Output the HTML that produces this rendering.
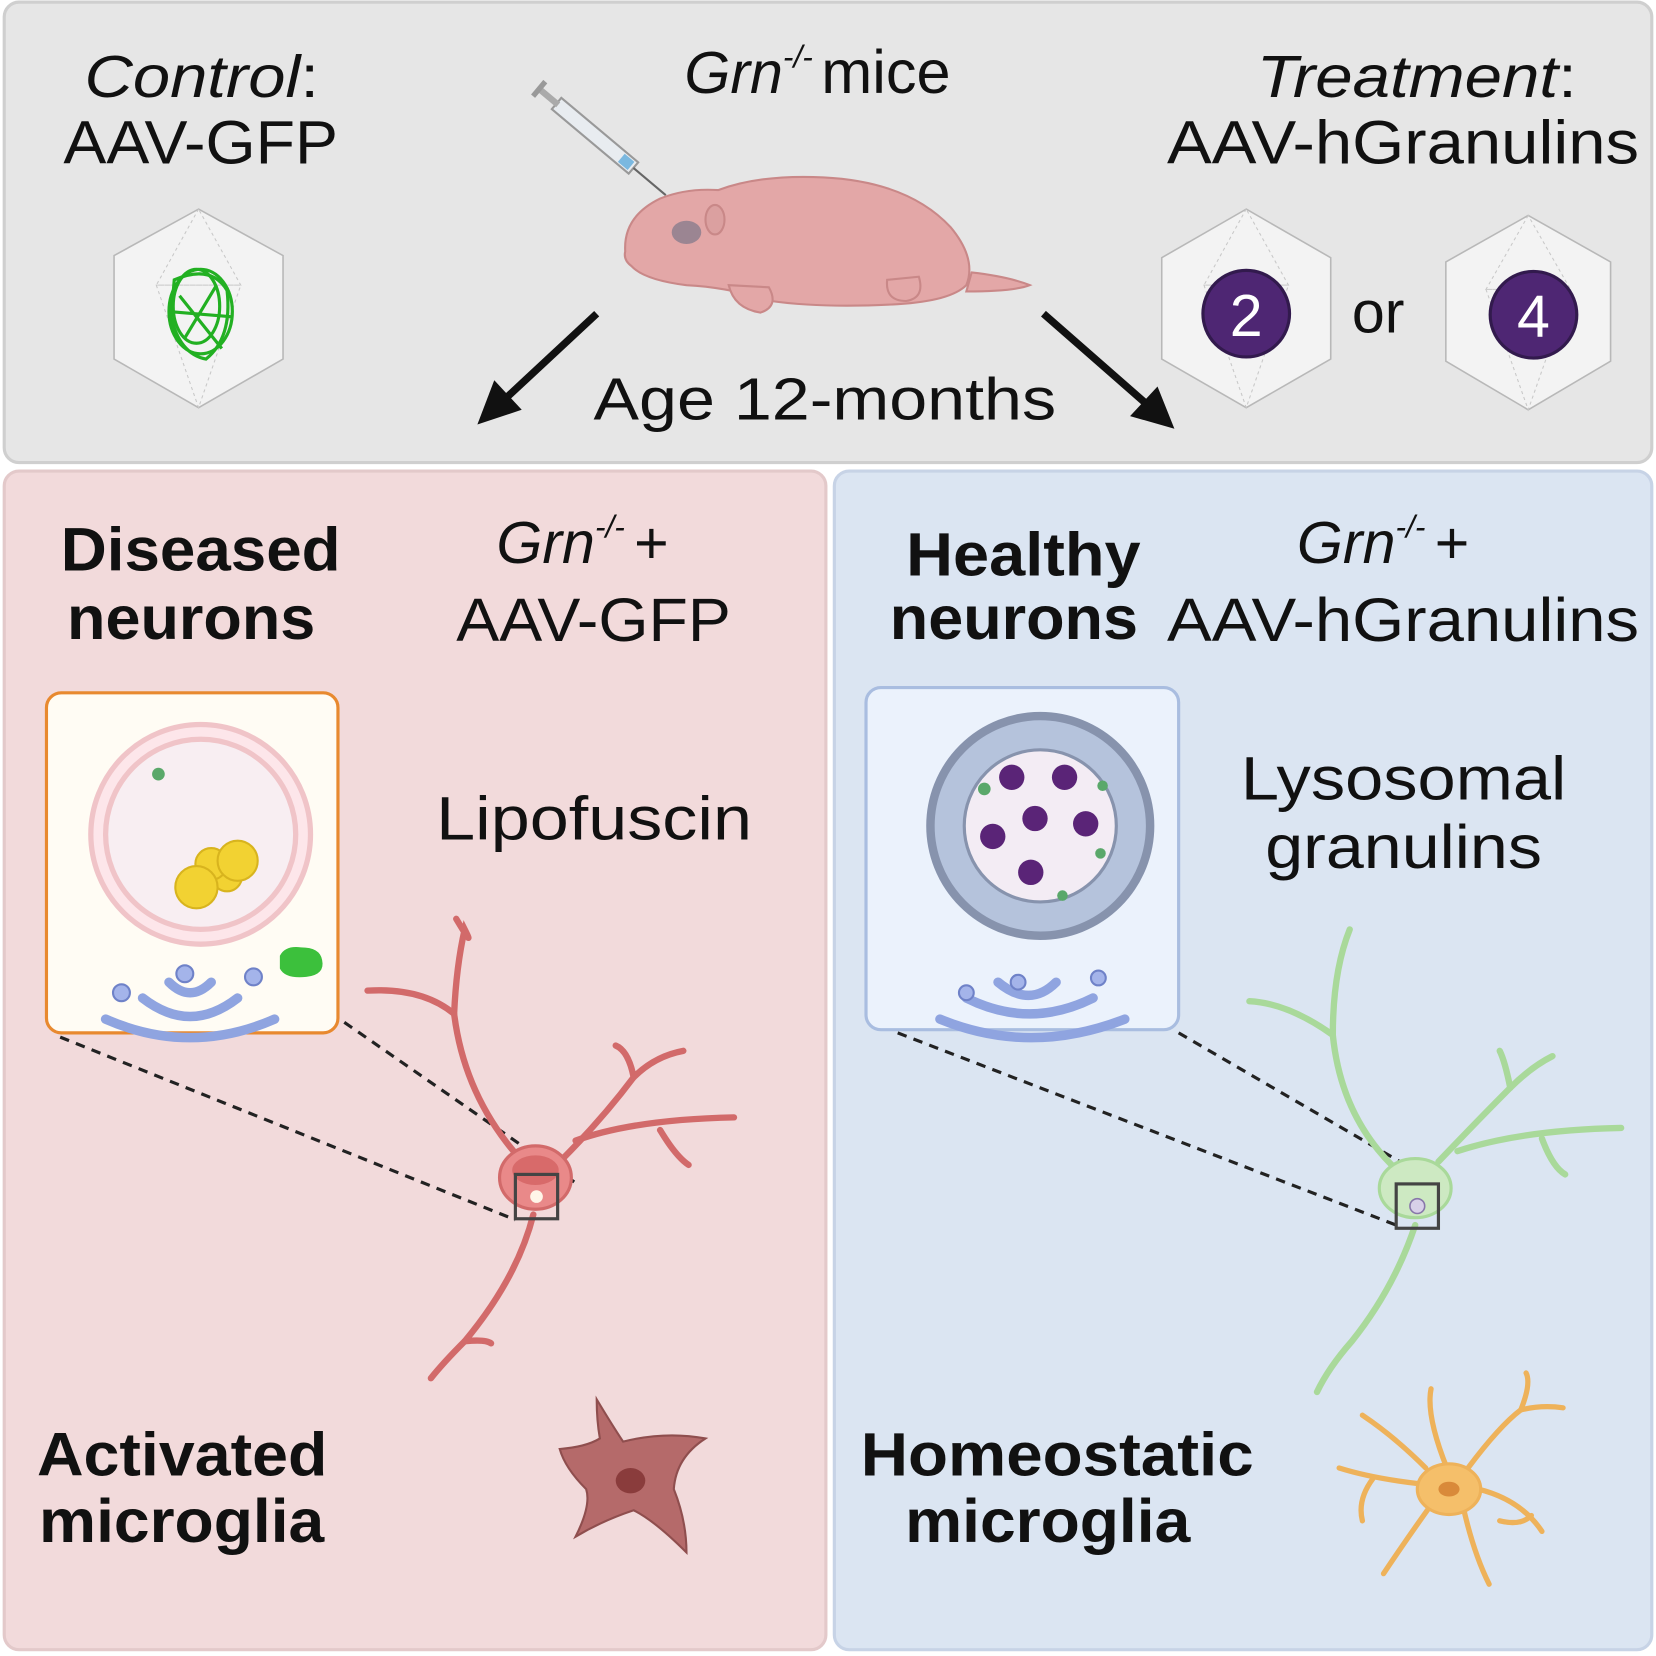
<!DOCTYPE html>
<html><head><meta charset="utf-8"><style>
html,body{margin:0;padding:0;background:#fff;}
svg{display:block;}
text{font-family:"Liberation Sans",sans-serif;fill:#111;}
</style></head><body>
<svg width="1656" height="1656" viewBox="0 0 1568 1568" xmlns="http://www.w3.org/2000/svg">
<rect x="0" y="0" width="1568" height="1568" fill="#fff"/>
<rect x="4" y="2" width="1560" height="436" rx="14" fill="#e6e6e6" stroke="#cfcfcf" stroke-width="3"/>
<rect x="4" y="446" width="778" height="1116" rx="14" fill="#f2dadb" stroke="#e3c9ca" stroke-width="3"/>
<rect x="790" y="446" width="774" height="1116" rx="14" fill="#dbe5f2" stroke="#c7d3e6" stroke-width="3"/>

<!-- top texts -->
<text x="80" y="92" font-size="56" font-style="italic" textLength="222" lengthAdjust="spacingAndGlyphs">Control<tspan font-style="normal">:</tspan></text>
<text x="190" y="155" font-size="58" text-anchor="middle" textLength="260" lengthAdjust="spacingAndGlyphs">AAV-GFP</text>
<text x="648" y="88" font-size="56" font-style="italic">Grn<tspan font-size="30" dy="-24">-/-</tspan><tspan dy="24" font-style="normal" dx="8" font-size="58">mice</tspan></text>
<text x="1190" y="92" font-size="56" font-style="italic" textLength="303" lengthAdjust="spacingAndGlyphs">Treatment<tspan font-style="normal">:</tspan></text>
<text x="1105" y="155" font-size="58" textLength="447" lengthAdjust="spacingAndGlyphs">AAV-hGranulins</text>
<text x="562" y="397" font-size="56" textLength="438" lengthAdjust="spacingAndGlyphs">Age 12-months</text>
<text x="1280" y="315" font-size="56">or</text>

<!-- arrows -->
<line x1="565" y1="297" x2="478" y2="378" stroke="#111" stroke-width="7"/>
<polygon points="452,402 468,360 494,388" fill="#111"/>
<line x1="988" y1="297" x2="1085" y2="382" stroke="#111" stroke-width="7"/>
<polygon points="1112,406 1070,394 1096,366" fill="#111"/>

<!-- syringe -->
<g transform="translate(527,98) rotate(40)">
<rect x="0" y="-7" width="95" height="14" fill="#e8ecf0" stroke="#999" stroke-width="2"/>
<rect x="-20" y="-3" width="22" height="6" fill="#aaa"/>
<rect x="-24" y="-9" width="5" height="18" fill="#999"/>
<line x1="95" y1="0" x2="135" y2="0" stroke="#666" stroke-width="2"/>
<rect x="80" y="-5" width="12" height="10" fill="#7ab8e0"/>
</g>

<!-- mouse -->
<g fill="#e3a7a7" stroke="#c98888" stroke-width="2">
<path d="M920,258 Q955,262 975,270 Q960,276 915,276 Z"/>
<path d="M592,238 Q590,205 625,188 Q650,178 680,180 Q720,165 780,168 Q860,172 900,215 Q925,245 915,270 Q900,285 850,288 Q780,292 730,285 Q690,272 650,270 Q610,265 598,252 Q590,246 592,238 Z"/>
<path d="M690,270 Q695,292 720,296 Q738,290 728,272 Z"/>
<path d="M840,265 Q838,285 858,285 Q876,282 870,262 Z"/>
</g>
<ellipse cx="650" cy="220" rx="14" ry="11" fill="#9b8592"/>
<ellipse cx="677" cy="208" rx="9" ry="14" fill="#dba0a0" stroke="#c98888" stroke-width="2"/>

<!-- viruses -->
<g fill="#f3f3f3" stroke="#b8b8b8" stroke-width="1.5">
<polygon points="188,198 268,242 268,340 188,386 108,340 108,242"/>
<polygon points="1180,198 1260,244 1260,340 1180,386 1100,340 1100,244"/>
<polygon points="1447,204 1525,248 1525,342 1447,388 1369,342 1369,248"/>
</g>
<g stroke="#c8c8c8" stroke-width="1" stroke-dasharray="3 3" fill="none">
<polygon points="188,198 148,270 228,270"/><polygon points="148,270 188,386 228,270"/>
<polygon points="1180,198 1140,270 1220,270"/><polygon points="1140,270 1180,386 1220,270"/>
<polygon points="1447,204 1407,274 1487,274"/><polygon points="1407,274 1447,388 1487,274"/>
</g>
<g fill="none" stroke="#22b022" stroke-width="3">
<ellipse cx="190" cy="295" rx="30" ry="40"/><ellipse cx="186" cy="290" rx="22" ry="35"/>
<path d="M165,265 Q200,250 215,275 Q220,320 195,340 Q170,335 162,300 Z"/>
<path d="M170,280 L210,330 M175,320 L205,270 M160,295 L220,300"/>
</g>
<circle cx="1180" cy="297" r="41" fill="#4e2673" stroke="#321a4d" stroke-width="3"/>
<text x="1180" y="318" font-size="56" text-anchor="middle" style="fill:#fff">2</text>
<circle cx="1452" cy="298" r="41" fill="#4e2673" stroke="#321a4d" stroke-width="3"/>
<text x="1452" y="319" font-size="56" text-anchor="middle" style="fill:#fff">4</text>

<!-- bottom texts -->
<text x="190" y="540" font-size="58" font-weight="bold" text-anchor="middle" textLength="265" lengthAdjust="spacingAndGlyphs">Diseased</text>
<text x="181" y="605" font-size="58" font-weight="bold" text-anchor="middle" textLength="235" lengthAdjust="spacingAndGlyphs">neurons</text>
<text x="470" y="533" font-size="56" font-style="italic">Grn<tspan font-size="30" dy="-24">-/-</tspan><tspan dy="24" dx="8">+</tspan></text>
<text x="432" y="607" font-size="58" textLength="260" lengthAdjust="spacingAndGlyphs">AAV-GFP</text>
<text x="969" y="545" font-size="58" font-weight="bold" text-anchor="middle" textLength="222" lengthAdjust="spacingAndGlyphs">Healthy</text>
<text x="960" y="605" font-size="58" font-weight="bold" text-anchor="middle" textLength="235" lengthAdjust="spacingAndGlyphs">neurons</text>
<text x="1228" y="533" font-size="56" font-style="italic">Grn<tspan font-size="30" dy="-24">-/-</tspan><tspan dy="24" dx="8">+</tspan></text>
<text x="1105" y="607" font-size="58" textLength="447" lengthAdjust="spacingAndGlyphs">AAV-hGranulins</text>
<text x="413" y="795" font-size="58" textLength="299" lengthAdjust="spacingAndGlyphs">Lipofuscin</text>
<text x="1175" y="757" font-size="58" textLength="308" lengthAdjust="spacingAndGlyphs">Lysosomal</text>
<text x="1198" y="822" font-size="58" textLength="262" lengthAdjust="spacingAndGlyphs">granulins</text>
<text x="35" y="1397" font-size="58" font-weight="bold" textLength="275" lengthAdjust="spacingAndGlyphs">Activated</text>
<text x="37" y="1460" font-size="58" font-weight="bold" textLength="270" lengthAdjust="spacingAndGlyphs">microglia</text>
<text x="815" y="1397" font-size="58" font-weight="bold" textLength="372" lengthAdjust="spacingAndGlyphs">Homeostatic</text>
<text x="857" y="1460" font-size="58" font-weight="bold" textLength="270" lengthAdjust="spacingAndGlyphs">microglia</text>

<!-- left inset -->
<rect x="44" y="656" width="276" height="322" rx="14" fill="#fffcf4" stroke="#e8892f" stroke-width="3"/>
<circle cx="190" cy="790" r="104" fill="#fde6ea" stroke="#f0c4c8" stroke-width="5"/>
<circle cx="190" cy="790" r="90" fill="#f8eef2" stroke="#f0c4c8" stroke-width="5"/>
<circle cx="150" cy="733" r="6" fill="#5aa86a"/>
<g fill="#f2d232" stroke="#d8b41e" stroke-width="2">
<circle cx="215" cy="830" r="14"/><circle cx="200" cy="818" r="15"/><circle cx="225" cy="815" r="19"/><circle cx="186" cy="840" r="20"/>
</g>
<path d="M265,905 q5,-10 20,-8 q18,0 20,12 q3,14 -15,16 q-20,2 -25,-8 z" fill="#3cc03c"/>
<g fill="none" stroke="#8fa4e0" stroke-width="9" stroke-linecap="round">
<path d="M100,965 Q180,1000 260,965"/>
<path d="M135,945 Q180,980 225,945"/>
<path d="M160,930 Q180,950 200,930"/>
</g>
<g fill="#a4b4ea" stroke="#6f82c8" stroke-width="2"><circle cx="115" cy="940" r="8"/><circle cx="175" cy="922" r="8"/><circle cx="240" cy="925" r="8"/></g>

<!-- right inset -->
<rect x="820" y="651" width="296" height="324" rx="14" fill="#ebf2fc" stroke="#a9bde0" stroke-width="3"/>
<circle cx="985" cy="782" r="104" fill="#b5c3dc" stroke="#8793ad" stroke-width="8"/>
<circle cx="985" cy="782" r="72" fill="#f3ecf4" stroke="#8793ad" stroke-width="3"/>
<g fill="#5a2477">
<circle cx="958" cy="736" r="12"/><circle cx="1008" cy="736" r="12"/><circle cx="980" cy="775" r="12"/>
<circle cx="940" cy="792" r="12"/><circle cx="1028" cy="780" r="12"/><circle cx="976" cy="826" r="12"/>
</g>
<g fill="#5aa86a"><circle cx="932" cy="747" r="6"/><circle cx="1044" cy="744" r="5"/><circle cx="1042" cy="808" r="5"/><circle cx="1006" cy="848" r="5"/></g>
<g fill="none" stroke="#8fa4e0" stroke-width="9" stroke-linecap="round">
<path d="M890,965 Q975,1000 1065,965"/>
<path d="M915,945 Q975,975 1035,945"/>
<path d="M945,930 Q975,955 1000,930"/>
</g>
<g fill="#a4b4ea" stroke="#6f82c8" stroke-width="2"><circle cx="915" cy="940" r="7"/><circle cx="964" cy="930" r="7"/><circle cx="1040" cy="926" r="7"/></g>

<!-- dashed lines -->
<g stroke="#222" stroke-width="3" stroke-dasharray="9 7">
<line x1="57" y1="982" x2="488" y2="1155"/>
<line x1="326" y1="968" x2="545" y2="1120"/>
<line x1="850" y1="978" x2="1322" y2="1160"/>
<line x1="1116" y1="978" x2="1360" y2="1120"/>
</g>

<!-- red neuron -->
<g fill="none" stroke="#d26a6a" stroke-width="6" stroke-linecap="round">
<path d="M495,1100 Q440,1040 430,960 Q432,915 440,880 Q450,900 432,870"/>
<path d="M430,960 Q400,935 348,938"/>
<path d="M530,1100 Q570,1060 600,1020 Q620,1000 647,995"/>
<path d="M600,1020 Q595,995 583,990"/>
<path d="M545,1080 Q600,1060 695,1058"/>
<path d="M625,1070 Q640,1095 652,1103"/>
<path d="M505,1150 Q490,1210 440,1270 Q420,1290 408,1305"/>
<path d="M440,1270 Q460,1268 465,1272"/>
</g>
<ellipse cx="507" cy="1115" rx="34" ry="30" fill="#e98989" stroke="#d26a6a" stroke-width="3"/>
<ellipse cx="507" cy="1108" rx="22" ry="14" fill="#d86a6a"/>
<circle cx="508" cy="1133" r="6" fill="#fff5e8"/>
<rect x="488" y="1112" width="40" height="42" fill="none" stroke="#444" stroke-width="3"/>

<!-- green neuron -->
<g fill="none" stroke="#a9d99a" stroke-width="6" stroke-linecap="round">
<path d="M1325,1110 Q1270,1060 1262,980 Q1262,920 1278,880"/>
<path d="M1262,980 Q1220,950 1183,948"/>
<path d="M1362,1100 Q1400,1060 1430,1030 Q1450,1010 1470,1000"/>
<path d="M1430,1030 Q1425,1005 1420,995"/>
<path d="M1380,1090 Q1440,1070 1535,1068"/>
<path d="M1460,1078 Q1470,1105 1482,1112"/>
<path d="M1340,1160 Q1320,1220 1280,1270 Q1258,1295 1247,1318"/>
</g>
<ellipse cx="1340" cy="1125" rx="34" ry="28" fill="#cde9c2" stroke="#a9d99a" stroke-width="3"/>
<circle cx="1342" cy="1142" r="7" fill="#d8d0e8" stroke="#8877aa" stroke-width="1.5"/>
<rect x="1322" y="1121" width="40" height="42" fill="none" stroke="#444" stroke-width="3"/>

<!-- activated microglia -->
<path d="M565,1325 Q580,1350 590,1365 Q630,1355 668,1362 Q640,1380 638,1410 Q650,1440 650,1470 Q620,1440 600,1430 Q570,1440 545,1455 Q560,1425 555,1410 Q535,1390 530,1372 Q555,1370 568,1362 Q565,1345 565,1325 Z" fill="#b56a6a" stroke="#8f4e4e" stroke-width="2"/>
<ellipse cx="597" cy="1402" rx="14" ry="12" fill="#8a3c3c"/>

<!-- homeostatic microglia -->
<g fill="none" stroke="#eeb25a" stroke-width="5" stroke-linecap="round">
<path d="M1370,1390 Q1350,1340 1355,1315"/>
<path d="M1390,1390 Q1420,1350 1440,1335 Q1460,1330 1480,1333"/>
<path d="M1400,1410 Q1440,1420 1460,1450"/>
<path d="M1385,1425 Q1395,1470 1410,1500"/>
<path d="M1355,1425 Q1330,1460 1310,1490"/>
<path d="M1345,1405 Q1300,1400 1268,1390"/>
<path d="M1350,1390 Q1320,1360 1290,1340"/>
<path d="M1440,1335 Q1450,1310 1445,1300 M1300,1400 Q1285,1420 1290,1440 M1420,1440 Q1440,1445 1450,1435"/>
</g>
<ellipse cx="1372" cy="1410" rx="30" ry="24" fill="#f5bf6a" stroke="#eeb25a" stroke-width="3"/>
<ellipse cx="1372" cy="1410" rx="10" ry="7" fill="#d98a3a"/>
</svg>
</body></html>
